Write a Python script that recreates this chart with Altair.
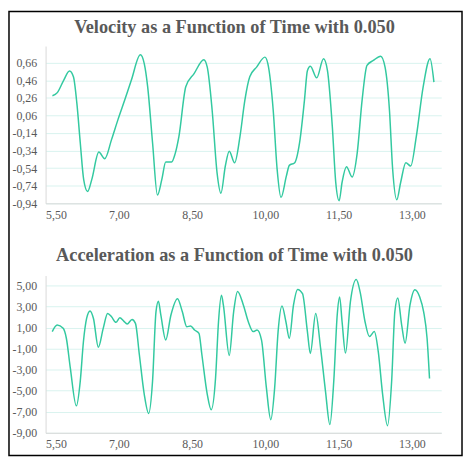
import altair as alt
import pandas as pd

# ---- data ----
vel_t = [5.64, 5.74, 5.87, 5.99, 6.07, 6.14, 6.21, 6.28, 6.36, 6.445, 6.59, 6.71, 6.85, 6.98,
         7.12, 7.255, 7.44, 7.52, 7.59, 7.69, 7.79, 7.88, 7.96, 8.08, 8.15, 8.23, 8.37, 8.54,
         8.74, 8.81, 8.91, 9.01, 9.09, 9.18, 9.26, 9.37, 9.48, 9.58, 9.68, 9.82, 9.99, 10.05,
         10.16, 10.24, 10.32, 10.43, 10.49, 10.60, 10.70, 10.80, 10.86, 10.92, 11.05, 11.19,
         11.27, 11.37, 11.44, 11.51, 11.57, 11.66, 11.775, 11.88, 11.98, 12.08, 12.21, 12.36,
         12.45, 12.54, 12.605, 12.69, 12.77, 12.875, 12.975, 13.09, 13.23, 13.37, 13.45]
vel_v = [0.285, 0.32, 0.46, 0.566, 0.50, 0.20, -0.25, -0.67, -0.805, -0.67, -0.357, -0.433, -0.215, 0.01,
         0.235, 0.46, 0.75, 0.65, 0.386, -0.25, -0.846, -0.667, -0.47, -0.47, -0.38, -0.177, 0.386, 0.536,
         0.694, 0.61, 0.12, -0.59, -0.824, -0.515, -0.346, -0.478, -0.177, 0.235, 0.50, 0.61, 0.724, 0.65,
         0.12, -0.55, -0.872, -0.628, -0.508, -0.478, -0.25, 0.235, 0.57, 0.62, 0.488, 0.705,
         0.573, -0.065, -0.70, -0.91, -0.70, -0.523, -0.64, -0.365, 0.235, 0.63, 0.686, 0.735,
         0.61, 0.12, -0.55, -0.90, -0.70, -0.478, -0.515, -0.177, 0.386, 0.705, 0.44]

acc_t = [5.636, 5.737, 5.86, 5.925, 6.006, 6.13, 6.21, 6.275, 6.34, 6.41, 6.48, 6.58, 6.68, 6.77,
         6.85, 6.94, 7.02, 7.10, 7.17, 7.27, 7.34, 7.42, 7.52, 7.61, 7.69, 7.76, 7.81, 7.86, 7.96,
         8.065, 8.20, 8.30, 8.39, 8.47, 8.55, 8.64, 8.70, 8.81, 8.89, 8.98, 9.04, 9.10, 9.14, 9.26,
         9.35, 9.43, 9.55, 9.65, 9.75, 9.83, 9.92, 10.02, 10.11, 10.19, 10.26, 10.34, 10.42, 10.49,
         10.575, 10.66, 10.76, 10.86, 10.92, 11.03, 11.13, 11.23, 11.32, 11.40, 11.47, 11.52, 11.57,
         11.64, 11.74, 11.86, 11.94, 12.04, 12.13, 12.23, 12.31, 12.40, 12.50, 12.585, 12.65, 12.71,
         12.79, 12.86, 12.96, 13.06, 13.16, 13.24, 13.31, 13.36]
acc_v = [0.62, 1.24, 0.93, -0.01, -2.83, -6.44, -4.08, -0.32, 1.87, 2.59, 1.87, -0.86, 0.93, 2.34,
         2.03, 1.50, 1.93, 1.62, 1.34, 1.78, 1.40, -1.58, -5.34, -7.16, -4.08, 2.50, 3.50, 2.18, -0.17,
         2.18, 3.75, 2.5, 1.09, 1.15, 0.77, 0.46, -1.58, -5.34, -6.81, -3.77, 1.56, 4.07, 3.13, -1.64,
         2.50, 4.44, 3.13, 1.56, 0.62, 0.77, -0.17, -4.71, -7.75, -4.71, 0.62, 3.06, 1.56, -0.01,
         3.13, 4.63, 4.22, 0.62, -1.45, 2.34, -0.95, -5.03, -8.22, -4.08, 2.18, 3.91, 1.56,
         -1.42, 3.44, 5.57, 4.38, 1.56, 0.15, 0.62, -1.26, -5.34, -8.32, -4.08, 2.5, 3.82,
         1.24, -0.48, 3.13, 4.60, 3.91, 2.5, -0.01, -3.83]

x_ticks = [5.5, 7.0, 8.5, 10.0, 11.5, 13.0]
vel_ticks = [-0.94, -0.74, -0.54, -0.34, -0.14, 0.06, 0.26, 0.46, 0.66]
acc_ticks = [-9.0, -7.0, -5.0, -3.0, -1.0, 1.0, 3.0, 5.0]

title_vel = "Velocity as a Function of Time with 0.050"
title_acc = "Acceleration as a Function of Time with 0.050"

# ---- styling ----
LINE = "#33c9a0"
GRID = "#d9f3ef"
AXIS = "#d9d9d9"
TXT = "#595959"
FONT = "Liberation Serif"
W, H = 400, 159
label_expr = "replace(replace(format(datum.value, '.2f'), '.', ','), '\u2212', '-')"

x_enc = alt.X("t:Q", scale=alt.Scale(domain=[5.5, 13.6], nice=False, zero=False),
              axis=alt.Axis(values=x_ticks, labelExpr=label_expr, grid=False, ticks=False,
                            domainColor=AXIS, labelFont=FONT, labelFontSize=12,
                            labelColor=TXT, labelPadding=6, title=None))

one_row = pd.DataFrame({"a": [0]})


def panel(t, v, ticks, dom, title, title_y):
    df = pd.DataFrame({"t": t, "v": v})
    y_enc = alt.Y("v:Q", scale=alt.Scale(domain=dom, nice=False, zero=False),
                  axis=alt.Axis(values=ticks, labelExpr=label_expr, grid=True, gridColor=GRID,
                                ticks=False, domainColor=AXIS, labelFont=FONT, labelFontSize=12,
                                labelColor=TXT, labelPadding=9, title=None))
    line = alt.Chart(df).mark_line(color=LINE, strokeWidth=1.5, interpolate="monotone").encode(
        x=x_enc, y=y_enc)
    ttl = alt.Chart(one_row).mark_text(
        font=FONT, fontSize=18.5, fontWeight="bold", color=TXT, align="center",
        baseline="middle").encode(x=alt.value(191), y=alt.value(title_y), text=alt.value(title))
    return alt.layer(line, ttl).properties(width=W, height=H)


top = panel(vel_t, vel_v, vel_ticks, [-0.94, 0.85], title_vel, -19)
frame = alt.Chart(one_row).mark_rect(
    fillOpacity=0, stroke="black", strokeWidth=1.5).encode(
    x=alt.value(-37), x2=alt.value(421), y=alt.value(-35), y2=alt.value(414))
top = alt.layer(top, frame)

bottom = panel(acc_t, acc_v, acc_ticks, [-9.0, 5.95], title_acc, -21)

chart = alt.vconcat(top, bottom, spacing=73, bounds="flush").properties(
    padding=0, background="white").configure_view(stroke=None).configure_axis(
    labelFont=FONT, labelFontSize=12, labelColor=TXT)

chart.save("out.html", embed_options={"renderer": "svg", "actions": False})
